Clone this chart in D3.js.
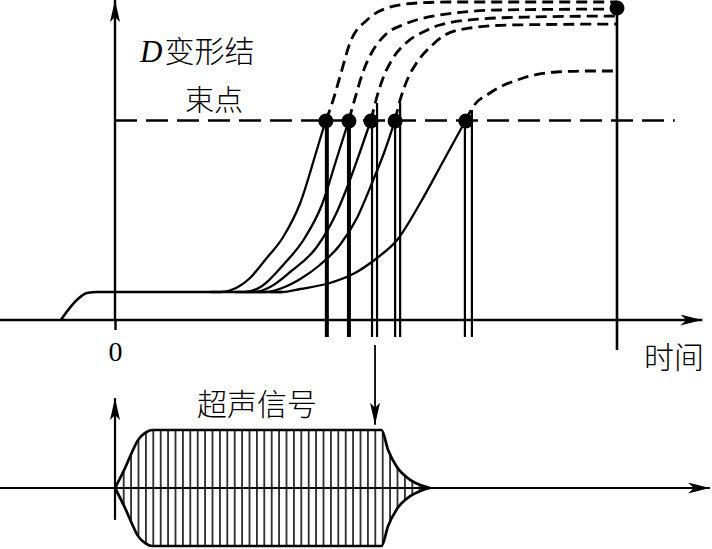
<!DOCTYPE html>
<html><head><meta charset="utf-8">
<script src="https://cdn.jsdelivr.net/npm/d3@7"></script>
<style>body{margin:0;background:#fff}svg{display:block}</style>
</head><body>
<svg id="c" width="712" height="549"></svg>
<script>
// ---------- data ----------
const tickValues = [0];
const tickLabels = ["0"];
const xAxisLabel = "时间";
const yLabelLine1 = ["D", "变形结"];
const yLabelLine2 = "束点";
const signalLabel = "超声信号";

const thresholdD = 10;
const thresholdRange = [0, 11.15];

// base curve (rise then plateau)
const baseCurve = [[-1.08,0],[-0.74,1.05],[-0.56,1.35],[-0.35,1.4],[3.33,1.4]];

// solid deformation curves (time, deformation)
const curve1 = [[1.9,1.4],[2.09,1.4],[2.45,1.65],[2.69,2.1],[2.99,3.0],[3.35,4.15],[3.69,5.85],[4.02,8.5],[4.2,10]];
const curve2 = [[2.4,1.4],[2.59,1.4],[2.93,1.7],[3.35,2.75],[3.78,4.1],[4.12,5.75],[4.42,8.1],[4.66,10]];
const curve3 = [[2.6,1.4],[2.79,1.4],[3.09,1.65],[3.49,2.4],[4.02,3.65],[4.42,5.4],[4.68,7.0],[4.88,8.4],[5.1,10]];
const curve4 = [[2.8,1.4],[2.99,1.4],[3.33,1.6],[3.69,2.05],[4.08,2.75],[4.48,3.75],[4.82,5.1],[5.12,6.85],[5.38,8.5],[5.58,10]];
const curve5 = [[3.1,1.4],[3.33,1.4],[3.69,1.55],[4.28,1.85],[4.78,2.35],[5.22,3.1],[5.62,4.0],[6.08,5.85],[6.53,7.9],[6.99,10]];
const solidCurves = [curve1, curve2, curve3, curve4, curve5];

// dashed continuation after the threshold
const dash1 = [[4.2,10],[4.28,10.5],[4.48,12.15],[4.68,13.85],[5.02,15.0],[5.42,15.6],[6.02,15.85],[6.67,15.9],[10,15.9]];
const dash2 = [[4.66,10],[4.8,11.25],[4.94,12.4],[5.12,13.4],[5.38,14.25],[5.78,14.8],[6.47,15.25],[7.67,15.5],[10,15.55]];
const dash3 = [[5.1,10],[5.2,11],[5.34,12.1],[5.54,13.1],[5.82,13.9],[6.18,14.45],[6.47,14.75],[7.27,15.05],[8.27,15.15],[10,15.2]];
const dash4 = [[5.58,10],[5.68,11],[5.82,12],[6.02,12.9],[6.28,13.65],[6.57,14.25],[7.07,14.6],[7.87,14.75],[10,14.8]];
const dash5 = [[6.99,10],[7.13,10.65],[7.47,11.35],[8.13,12.1],[8.8,12.4],[9.46,12.45],[10,12.45]];
const dashedCurves = [dash1, dash2, dash3, dash4, dash5];

// threshold crossing points
const crossTimes = [4.2, 4.66, 5.1, 5.58, 6.99];

// vertical marker lines
const markerTimes = [4.22, 4.66, 5.12, 5.22, 5.58, 5.68, 6.97, 7.11];
const markerTops  = [10, 10, 10, 10.85, 10, 10.85, 10, 10.5];
const markerBottom = -0.85;

// final time
const endTime = 10;
const endTop = 15.6;
const endBottom = -1.5;

// arrow linking to signal
const linkTime = 5.18;

// ultrasonic signal envelope (time, amplitude)
const envTimes = [0, 0.2, 0.34, 0.46, 0.6, 0.74, 5.31, 5.44, 5.61, 5.88, 6.08, 6.27];
const envAmps  = [0, 0.345, 0.62, 0.83, 0.95, 1.0, 1.0, 0.655, 0.37, 0.14, 0.05, 0];

// ---------- drawing ----------
const svg = d3.select("#c");
const x = d3.scaleLinear().domain([0,10]).range([115,617]);
const y = d3.scaleLinear().domain([0,10]).range([320,120]);
const yb = d3.scaleLinear().domain([-1,1]).range([546,430]);

const cjk = "'Noto Sans CJK SC','Noto Sans CJK JP',sans-serif";
const serif = "'Liberation Serif','DejaVu Serif',serif";

const defs = svg.append("defs");
defs.append("marker").attr("id","arr")
  .attr("viewBox","0 0 22 11").attr("refX",22).attr("refY",5.5)
  .attr("markerWidth",22).attr("markerHeight",11)
  .attr("markerUnits","userSpaceOnUse").attr("orient","auto")
  .append("path").attr("d","M0,0 L22,5.5 L0,11 L6,5.5 Z").attr("fill","#000");
defs.append("marker").attr("id","arr2")
  .attr("viewBox","0 0 22 10").attr("refX",22).attr("refY",5)
  .attr("markerWidth",22).attr("markerHeight",10)
  .attr("markerUnits","userSpaceOnUse").attr("orient","auto")
  .append("path").attr("d","M0,0 L22,5 L0,10 L5,5 Z").attr("fill","#000");
const pat = defs.append("pattern").attr("id","hatch")
  .attr("patternUnits","userSpaceOnUse").attr("width",7.4).attr("height",20).attr("x",1.6);
pat.append("line").attr("x1",3.7).attr("x2",3.7).attr("y1",0).attr("y2",20)
  .attr("stroke","#000").attr("stroke-width",1.5);

const line = d3.line().x(d=>x(d[0])).y(d=>y(d[1])).curve(d3.curveMonotoneX);

// bottom signal envelope
const env = envTimes.map((t,i)=>[t, envAmps[i]]);
const area = d3.area().x(d=>x(d[0])).y0(d=>yb(-d[1])).y1(d=>yb(d[1])).curve(d3.curveMonotoneX);
svg.append("path").attr("d", area(env)).attr("fill","url(#hatch)").attr("stroke","none");
const upper = d3.line().x(d=>x(d[0])).y(d=>yb(d[1])).curve(d3.curveMonotoneX);
const lower = d3.line().x(d=>x(d[0])).y(d=>yb(-d[1])).curve(d3.curveMonotoneX);
svg.append("path").attr("d", upper(env)).attr("fill","none").attr("stroke","#000").attr("stroke-width",2.7);
svg.append("path").attr("d", lower(env)).attr("fill","none").attr("stroke","#000").attr("stroke-width",2.7);

// bottom axes
svg.append("line").attr("x1",x(-2.3)).attr("x2",x(11.85)).attr("y1",yb(0)).attr("y2",yb(0))
  .attr("stroke","#000").attr("stroke-width",2.2).attr("marker-end","url(#arr)");
svg.append("line").attr("x1",x(0)).attr("x2",x(0)).attr("y1",yb(-0.55)).attr("y2",yb(1.55))
  .attr("stroke","#000").attr("stroke-width",2.2).attr("marker-end","url(#arr2)");

// top axes
svg.append("line").attr("x1",x(-2.3)).attr("x2",x(11.7)).attr("y1",y(0)).attr("y2",y(0))
  .attr("stroke","#000").attr("stroke-width",2.4).attr("marker-end","url(#arr)");
svg.append("line").attr("x1",x(0)).attr("x2",x(0)).attr("y1",y(0)).attr("y2",y(16))
  .attr("stroke","#000").attr("stroke-width",2.4).attr("marker-end","url(#arr2)");

const ax = svg.append("g").attr("transform",`translate(0,${y(0)})`)
  .call(d3.axisBottom(x).tickValues(tickValues).tickFormat((d,i)=>tickLabels[i]).tickSize(10).tickPadding(11));
ax.select(".domain").remove();
ax.attr("font-size",null).attr("font-family",null);
ax.selectAll(".tick line").attr("stroke","#000").attr("stroke-width",2.4);
ax.selectAll(".tick text").style("font-family",serif).style("font-size","28px").attr("fill","#000");

// threshold dashed line
svg.append("line").attr("x1",x(thresholdRange[0])).attr("x2",x(thresholdRange[1]))
  .attr("y1",y(thresholdD)+0.5).attr("y2",y(thresholdD)+0.5)
  .attr("stroke","#000").attr("stroke-width",2.6).attr("stroke-dasharray","22,9");

// base curve
svg.append("path").attr("d", line(baseCurve)).attr("fill","none").attr("stroke","#000").attr("stroke-width",2.6);

// solid curves
solidCurves.forEach(c=>{
  svg.append("path").attr("d", line(c)).attr("fill","none").attr("stroke","#000").attr("stroke-width",2.3);
});
// dashed curves
dashedCurves.forEach(c=>{
  svg.append("path").attr("d", line(c)).attr("fill","none").attr("stroke","#000")
    .attr("stroke-width",2.8).attr("stroke-dasharray","11,6");
});

// marker verticals
markerTimes.forEach((t,i)=>{
  svg.append("line").attr("x1",x(t)).attr("x2",x(t)).attr("y1",y(markerTops[i])).attr("y2",y(markerBottom))
    .attr("stroke","#000").attr("stroke-width", i<2 ? 4 : 2.2);
});

// end line
svg.append("line").attr("x1",x(endTime)).attr("x2",x(endTime)).attr("y1",y(endTop)).attr("y2",y(endBottom))
  .attr("stroke","#000").attr("stroke-width",2.6);
svg.append("circle").attr("cx",x(endTime)).attr("cy",y(endTop)).attr("r",7.5).attr("fill","#000");

// crossing dots
svg.selectAll("circle.cross").data(crossTimes).enter().append("circle").attr("class","cross")
  .attr("cx",d=>x(d)).attr("cy",y(thresholdD)+1).attr("r",7.5).attr("fill","#000");

// link arrow
svg.append("line").attr("x1",x(linkTime)).attr("x2",x(linkTime)).attr("y1",y(-1.25)).attr("y2",yb(1.09))
  .attr("stroke","#000").attr("stroke-width",1.8).attr("marker-end","url(#arr2)");

// labels
const t1 = svg.append("text").attr("x",140).attr("y",62).attr("font-size",30).attr("fill","#000");
t1.append("tspan").text(yLabelLine1[0]).attr("font-family",serif).attr("font-style","italic").attr("font-size",31);
t1.append("tspan").text(yLabelLine1[1]).attr("font-family",cjk).attr("font-weight",300).attr("dx",2);
svg.append("text").attr("x",185).attr("y",111).attr("font-family",cjk).attr("font-weight",300)
  .attr("font-size",29).attr("fill","#000").text(yLabelLine2);
svg.append("text").attr("x",644).attr("y",368).attr("font-family",cjk).attr("font-weight",300)
  .attr("font-size",30).attr("fill","#000").text(xAxisLabel);
svg.append("text").attr("x",197).attr("y",415).attr("font-family",cjk).attr("font-weight",300)
  .attr("font-size",30).attr("fill","#000").text(signalLabel);
</script>
</body></html>
